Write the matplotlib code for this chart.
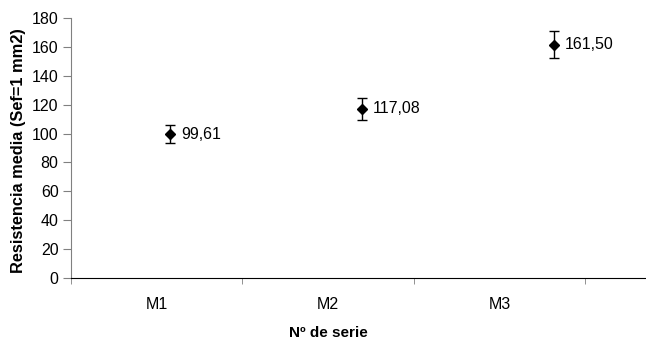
import numpy as np
import matplotlib
matplotlib.use('Agg')
import matplotlib.pyplot as plt

series = ['M1', 'M2', 'M3']
values = [99.61, 117.08, 161.50]
errors = [6.0, 7.6, 9.4]
labels = ['99,61', '117,08', '161,50']

plt.rcParams['font.family'] = ['Liberation Sans', 'DejaVu Sans']

fig = plt.figure(figsize=(6.46, 3.40), dpi=100)
ax = fig.add_axes([71 / 646, 62 / 340, 575 / 646, 260 / 340])

x = np.arange(1, len(series) + 1)
ax.errorbar(x, values, yerr=errors, fmt='D', color='black', ms=5.5,
            ecolor='black', elinewidth=1, capsize=3.8, capthick=1)
for xi, v, t in zip(x, values, labels):
    ax.annotate(t, (xi, v), xytext=(8, 0), textcoords='offset points',
                va='center', ha='left', fontsize=11.5)

# category axis like the original spreadsheet chart
left = 0.484
width = 0.893
ax.set_xlim(left, 3.479)
ax.set_ylim(0, 180)
ax.set_yticks(np.arange(0, 181, 20))
ax.set_xticks(left + width * (np.arange(len(series)) + 0.5))
ax.set_xticklabels(series)
ax.set_xticks(left + width * np.arange(len(series) + 1), minor=True)
ax.tick_params(axis='x', which='major', length=0, pad=14, labelsize=11.5)
ax.tick_params(axis='x', which='minor', length=4, direction='out', color='#808080')
ax.tick_params(axis='y', length=6, direction='out', pad=3, labelsize=11.5, color='#808080')

ax.spines['top'].set_visible(False)
ax.spines['right'].set_visible(False)
ax.spines['left'].set_color('#808080')
ax.spines['bottom'].set_color('black')

ax.set_ylabel('Resistencia media (Sef=1 mm2)', fontsize=11.8, fontweight='bold')
ax.yaxis.set_label_coords(-0.078, 0.49)
ax.set_xlabel('Nº de serie', fontsize=11, fontweight='bold')
ax.xaxis.set_label_coords(0.447, -0.186)

plt.savefig('out.png', dpi=100)
